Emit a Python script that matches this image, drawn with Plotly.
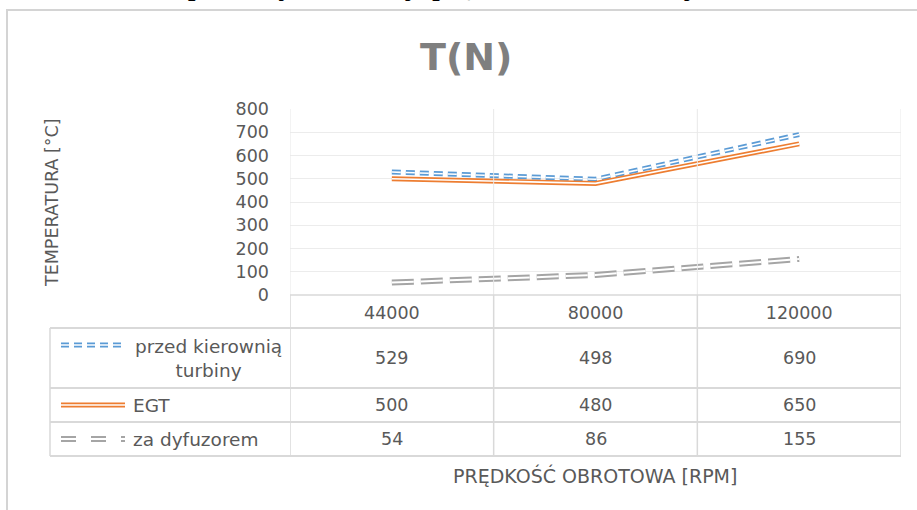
import plotly.graph_objects as go

# ---- data ----
categories = ["44000", "80000", "120000"]
series_names = ["przed kierownią<br>turbiny", "EGT", "za dyfuzorem"]
przed_kierownia = [529, 498, 690]
egt = [500, 480, 650]
za_dyfuzorem = [54, 86, 155]
y_ticks = [0, 100, 200, 300, 400, 500, 600, 700, 800]

title_text = "T(N)"
y_title = "TEMPERATURA [°C]"
x_title = "PRĘDKOŚĆ OBROTOWA [RPM]"
doc_text = "Zależność temperatury w funkcji prędkości obrotowej."

# ---- styling ----
W, H = 917, 510
PX0, PX1, PY0, PY1 = 290, 901, 109, 295
FONT = "DejaVu Sans"
TXT = "#595959"
GRID = "#ececec"
TBL = "#d9d9d9"

def px(x):
    return (x - PX0) / (PX1 - PX0)

def py(y):
    return (PY1 - y) / (PY1 - PY0)

styles = [
    dict(color="#5b9bd5", width=5, inner=1.6, dash="9px,5px", kdash="8px,5px"),
    dict(color="#ed7d31", width=5, inner=1.6, dash="solid", kdash="solid"),
    dict(color="#a5a5a5", width=6, inner=2, dash="22px,7px", kdash="15px,15px"),
]
values = [przed_kierownia, egt, za_dyfuzorem]
xs = list(range(len(categories)))

fig = go.Figure()
for vals, st in zip(values, styles):
    fig.add_trace(go.Scatter(x=xs, y=vals, mode="lines",
                             line=dict(color=st["color"], width=st["width"], dash=st["dash"]),
                             hoverinfo="skip", showlegend=False))
    fig.add_trace(go.Scatter(x=xs, y=vals, mode="lines",
                             line=dict(color="white", width=st["inner"], dash=st["dash"]),
                             hoverinfo="skip", showlegend=False))

shapes = []
ann = []

# chart frame
shapes.append(dict(type="rect", xref="paper", yref="paper",
                   x0=px(7), x1=px(960), y0=py(10), y1=py(560),
                   line=dict(color="#d4d4d4", width=2), layer="below"))

# vertical grid / table lines at category boundaries
for b in [-0.5, 0.5, 1.5, 2.5]:
    shapes.append(dict(type="line", xref="x", yref="paper", x0=b, x1=b,
                       y0=1, y1=py(295), line=dict(color="#e8e8e8", width=1)))
    shapes.append(dict(type="line", xref="x", yref="paper", x0=b, x1=b,
                       y0=py(295), y1=py(456), line=dict(color=TBL, width=1.5)))

# table horizontal lines
shapes.append(dict(type="line", xref="paper", yref="paper", x0=0, x1=1,
                   y0=py(295), y1=py(295), line=dict(color=TBL, width=1.5)))
for yy in [328, 388, 422, 456]:
    shapes.append(dict(type="line", xref="paper", yref="paper", x0=px(50), x1=1,
                       y0=py(yy), y1=py(yy), line=dict(color=TBL, width=2)))
shapes.append(dict(type="line", xref="paper", yref="paper", x0=px(50), x1=px(50),
                   y0=py(328), y1=py(456), line=dict(color=TBL, width=1.5)))

row_centers = [358, 405, 439]
key_y = [345, 405, 439]

for i, (name, vals, st) in enumerate(zip(series_names, values, styles)):
    # legend key (double line)
    shapes.append(dict(type="line", xref="paper", yref="paper", x0=px(61), x1=px(125),
                       y0=py(key_y[i]), y1=py(key_y[i]),
                       line=dict(color=st["color"], width=st["width"], dash=st["kdash"])))
    shapes.append(dict(type="line", xref="paper", yref="paper", x0=px(61), x1=px(125),
                       y0=py(key_y[i]), y1=py(key_y[i]),
                       line=dict(color="white", width=st["inner"], dash=st["kdash"])))
    if i == 0:
        ann.append(dict(text=name, xref="paper", yref="paper", x=px(208), y=py(row_centers[i]),
                        xanchor="center", yanchor="middle", align="center", showarrow=False,
                        font=dict(family=FONT, size=18.5, color=TXT)))
    else:
        ann.append(dict(text=name, xref="paper", yref="paper", x=px(131), y=py(row_centers[i]),
                        xanchor="left", yanchor="middle", showarrow=False,
                        font=dict(family=FONT, size=18.5, color=TXT)))
    for j, v in enumerate(vals):
        ann.append(dict(text=str(v), xref="x", yref="paper", x=j, y=py(row_centers[i]),
                        xanchor="center", yanchor="middle", showarrow=False,
                        font=dict(family=FONT, size=17.5, color=TXT)))

# axis titles
ann.append(dict(text=x_title, xref="paper", yref="paper", x=px(595), y=py(475),
                xanchor="center", yanchor="middle", showarrow=False,
                font=dict(family=FONT, size=19, color=TXT)))
ann.append(dict(text=y_title, xref="paper", yref="paper", x=px(52), y=py(203),
                xanchor="center", yanchor="middle", textangle=-90, showarrow=False,
                font=dict(family=FONT, size=17.5, color=TXT)))
# title
ann.append(dict(text="<b>" + title_text + "</b>", xref="paper", yref="paper", x=px(466), y=py(57),
                xanchor="center", yanchor="middle", showarrow=False,
                font=dict(family=FONT, size=38, color="#7f7f7f")))
# clipped document text above the chart (cut off by the page edge, as in the reference)
ann.append(dict(text=doc_text, xref="paper", yref="paper", x=px(0), y=py(3),
                xanchor="left", yanchor="bottom", showarrow=False,
                font=dict(family="Liberation Serif", size=32, color="black")))

fig.update_layout(
    width=W, height=H,
    margin=dict(l=PX0, r=W - PX1, t=PY0, b=H - PY1, autoexpand=False),
    paper_bgcolor="white", plot_bgcolor="white",
    showlegend=False,
    shapes=shapes, annotations=ann,
    xaxis=dict(range=[-0.5, 2.5], tickvals=xs, ticktext=categories,
               showgrid=False, zeroline=False, showline=False, ticks="",
               tickfont=dict(family=FONT, size=17.5, color=TXT), ticklabelstandoff=5),
    yaxis=dict(range=[0, 800], tickvals=y_ticks, showgrid=True, gridcolor=GRID, gridwidth=1,
               zeroline=False, showline=False, ticks="",
               tickfont=dict(family=FONT, size=17.5, color=TXT), ticklabelstandoff=20),
)

fig.write_html("out.html", config={"displayModeBar": False},
               post_script="document.body.style.margin='0px';document.body.style.overflow='hidden';")
